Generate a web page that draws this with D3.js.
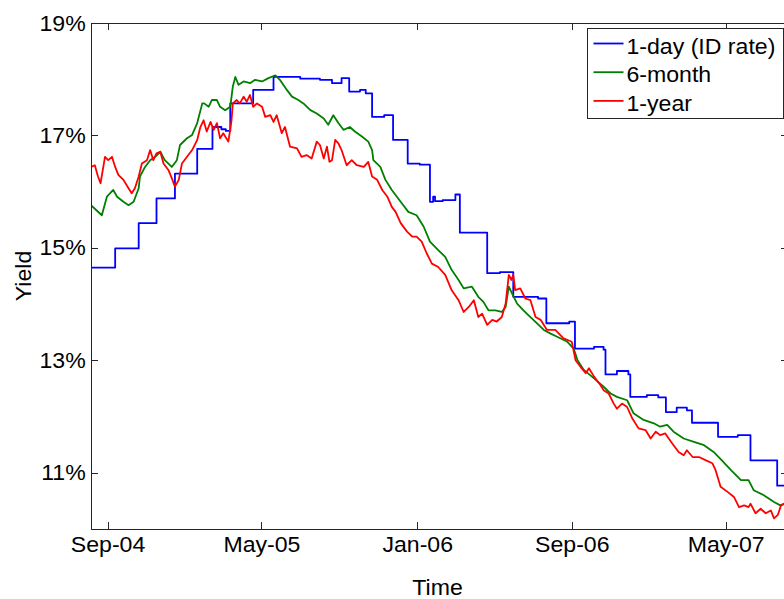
<!DOCTYPE html>
<html>
<head>
<meta charset="utf-8">
<script src="https://cdnjs.cloudflare.com/ajax/libs/d3/7.8.5/d3.min.js"></script>
<style>
  body { margin: 0; background: #fff; }
  svg { display: block; font-family: "Liberation Sans", Arial, sans-serif; }
  .axis path, .axis line { stroke: #262626; shape-rendering: crispEdges; }
  .axis text { font-size: 22px; fill: #000; }
  .label { font-size: 22px; fill: #000; }
  .legendtext { font-size: 22px; fill: #000; }
</style>
</head>
<body>
<script>
// tick positions and labels
var xTicks = ["2004-09-01", "2005-05-01", "2006-01-01", "2006-09-01", "2007-05-01"];
var yTicks = [11, 13, 15, 17, 19];
var seriesNames = ["1-day (ID rate)", "6-month", "1-year"];
var seriesColors = ["#0000ff", "#008000", "#ff0000"];

// 1-day rate, step function (date the level starts, yield %)
var oneDay = [
  ["2004-08-06",14.65],["2004-09-13",14.99],["2004-10-20",15.44],["2004-11-17",15.88],
  ["2004-12-16",16.32],["2005-01-20",16.76],["2005-02-13",17.15],["2005-02-27",17.11],
  ["2005-03-06",17.08],["2005-03-13",17.57],["2005-04-18",17.81],["2005-05-20",18.04],
  ["2005-07-01",18.01],["2005-08-01",17.99],["2005-08-20",17.93],["2005-09-04",18.02],
  ["2005-09-16",17.78],["2005-10-03",17.81],["2005-10-12",17.75],["2005-10-22",17.33],
  ["2005-11-10",17.36],["2005-11-24",16.92],["2005-12-17",16.50],["2006-01-05",16.48],
  ["2006-01-21",15.82],["2006-01-26",15.91],["2006-01-29",15.83],["2006-02-10",15.85],
  ["2006-03-02",15.95],["2006-03-09",15.27],["2006-04-21",14.55],["2006-05-11",14.57],
  ["2006-06-01",14.13],["2006-07-10",14.10],["2006-07-23",13.66],["2006-08-28",13.69],
  ["2006-09-06",13.21],["2006-10-06",13.24],["2006-10-21",13.19],["2006-10-24",12.75],
  ["2006-11-11",12.81],["2006-11-29",12.75],["2006-12-02",12.35],["2006-12-28",12.38],
  ["2007-01-15",12.34],["2007-01-27",12.08],["2007-02-13",12.16],["2007-03-01",12.11],
  ["2007-03-09",11.89],["2007-04-19",11.64],["2007-05-20",11.67],["2007-06-09",11.22],
  ["2007-07-21",10.77],["2007-08-07",10.77]
];

var sixMonth = [
  ["2004-08-06",15.76],["2004-08-23",15.58],["2004-08-31",15.91],["2004-09-10",16.03],
  ["2004-09-16",15.91],["2004-09-26",15.82],["2004-10-04",15.76],["2004-10-12",15.82],
  ["2004-10-20",16.06],["2004-10-22",16.27],["2004-10-30",16.44],["2004-11-07",16.56],
  ["2004-11-15",16.62],["2004-11-23",16.71],["2004-11-30",16.56],["2004-12-11",16.44],
  ["2004-12-19",16.56],["2004-12-24",16.83],["2005-01-04",16.95],["2005-01-12",17.01],
  ["2005-01-20",17.22],["2005-01-28",17.57],["2005-01-31",17.57],["2005-02-07",17.51],
  ["2005-02-12",17.63],["2005-02-20",17.63],["2005-02-25",17.51],["2005-03-05",17.45],
  ["2005-03-13",17.51],["2005-03-17",17.87],["2005-03-21",18.04],["2005-03-26",17.90],
  ["2005-04-03",17.96],["2005-04-13",17.93],["2005-04-21",17.99],["2005-05-02",17.96],
  ["2005-05-12",18.02],["2005-05-23",18.07],["2005-05-30",17.99],["2005-06-10",17.81],
  ["2005-06-18",17.69],["2005-06-28",17.63],["2005-07-06",17.57],["2005-07-17",17.45],
  ["2005-07-27",17.39],["2005-08-07",17.30],["2005-08-14",17.19],["2005-08-22",17.36],
  ["2005-08-30",17.22],["2005-09-07",17.10],["2005-09-17",17.15],["2005-09-25",17.07],
  ["2005-10-06",16.98],["2005-10-16",16.89],["2005-10-22",16.74],["2005-10-24",16.56],
  ["2005-11-04",16.44],["2005-11-12",16.21],["2005-11-22",16.03],["2005-11-30",15.91],
  ["2005-12-08",15.79],["2005-12-18",15.64],["2005-12-31",15.58],["2006-01-11",15.38],
  ["2006-01-21",15.11],["2006-02-03",14.96],["2006-02-14",14.84],["2006-02-24",14.61],
  ["2006-03-07",14.43],["2006-03-15",14.28],["2006-03-28",14.31],["2006-04-07",14.13],
  ["2006-04-15",14.04],["2006-04-23",13.89],["2006-05-04",13.89],["2006-05-14",13.86],
  ["2006-05-20",13.95],["2006-05-25",14.31],["2006-05-30",14.19],["2006-06-07",14.01],
  ["2006-06-17",13.89],["2006-06-28",13.77],["2006-07-08",13.66],["2006-07-19",13.54],
  ["2006-07-29",13.48],["2006-08-09",13.42],["2006-08-25",13.33],["2006-09-04",13.21],
  ["2006-09-10",13.00],["2006-09-20",12.83],["2006-10-06",12.68],["2006-10-21",12.53],
  ["2006-11-01",12.41],["2006-11-11",12.35],["2006-11-27",12.29],["2006-12-07",12.06],
  ["2006-12-23",11.94],["2007-01-08",11.88],["2007-01-18",11.82],["2007-01-29",11.85],
  ["2007-02-08",11.73],["2007-02-24",11.61],["2007-03-12",11.55],["2007-03-28",11.49],
  ["2007-04-12",11.37],["2007-04-25",11.22],["2007-05-09",11.05],["2007-05-25",10.87],
  ["2007-06-06",10.87],["2007-06-14",10.69],["2007-06-30",10.60],["2007-07-16",10.48],
  ["2007-07-26",10.42],["2007-08-07",10.48]
];

var oneYear = [
  ["2004-08-06",16.44],["2004-08-12",16.47],["2004-08-17",16.27],["2004-08-21",16.15],
  ["2004-08-28",16.62],["2004-09-02",16.56],["2004-09-08",16.62],["2004-09-13",16.44],
  ["2004-09-18",16.30],["2004-09-26",16.21],["2004-10-04",16.06],["2004-10-09",15.97],
  ["2004-10-14",16.06],["2004-10-20",16.27],["2004-10-25",16.50],["2004-11-02",16.56],
  ["2004-11-07",16.74],["2004-11-12",16.56],["2004-11-17",16.68],["2004-11-23",16.71],
  ["2004-11-28",16.50],["2004-12-06",16.38],["2004-12-11",16.24],["2004-12-16",16.09],
  ["2004-12-22",16.21],["2004-12-27",16.50],["2005-01-04",16.62],["2005-01-12",16.74],
  ["2005-01-20",16.92],["2005-01-25",17.15],["2005-01-30",17.27],["2005-02-04",17.07],
  ["2005-02-10",17.24],["2005-02-15",17.10],["2005-02-20",17.22],["2005-02-25",16.95],
  ["2005-03-02",17.04],["2005-03-10",16.89],["2005-03-15",17.27],["2005-03-17",17.57],
  ["2005-03-23",17.63],["2005-03-28",17.57],["2005-04-03",17.69],["2005-04-08",17.60],
  ["2005-04-13",17.72],["2005-04-18",17.51],["2005-04-24",17.57],["2005-05-02",17.51],
  ["2005-05-07",17.33],["2005-05-15",17.36],["2005-05-20",17.24],["2005-05-25",17.36],
  ["2005-06-02",17.04],["2005-06-07",17.15],["2005-06-15",16.80],["2005-06-26",16.77],
  ["2005-07-03",16.62],["2005-07-11",16.65],["2005-07-19",16.59],["2005-07-27",16.89],
  ["2005-08-01",16.83],["2005-08-07",16.59],["2005-08-12",16.80],["2005-08-16",16.53],
  ["2005-08-20",16.56],["2005-08-25",16.92],["2005-08-30",16.86],["2005-09-04",16.74],
  ["2005-09-12",16.47],["2005-09-20",16.56],["2005-09-28",16.47],["2005-10-09",16.44],
  ["2005-10-16",16.53],["2005-10-22",16.27],["2005-10-30",16.21],["2005-11-07",16.03],
  ["2005-11-15",15.91],["2005-11-22",15.73],["2005-11-28",15.64],["2005-12-06",15.44],
  ["2005-12-16",15.29],["2005-12-24",15.20],["2005-12-31",15.20],["2006-01-08",15.11],
  ["2006-01-16",14.90],["2006-01-24",14.72],["2006-02-03",14.66],["2006-02-14",14.52],
  ["2006-02-24",14.25],["2006-03-07",14.07],["2006-03-15",13.86],["2006-03-23",13.95],
  ["2006-03-31",14.07],["2006-04-07",13.77],["2006-04-13",13.83],["2006-04-21",13.63],
  ["2006-04-29",13.72],["2006-05-06",13.69],["2006-05-14",13.77],["2006-05-20",14.01],
  ["2006-05-25",14.52],["2006-05-29",14.43],["2006-06-01",14.52],["2006-06-04",14.25],
  ["2006-06-12",14.28],["2006-06-20",14.10],["2006-06-28",14.07],["2006-07-06",13.77],
  ["2006-07-14",13.72],["2006-07-24",13.54],["2006-08-06",13.54],["2006-08-19",13.39],
  ["2006-09-01",13.33],["2006-09-07",13.00],["2006-09-15",12.88],["2006-09-23",12.77],
  ["2006-09-28",12.86],["2006-10-06",12.71],["2006-10-16",12.56],["2006-10-21",12.47],
  ["2006-10-29",12.41],["2006-11-06",12.23],["2006-11-11",12.14],["2006-11-19",12.23],
  ["2006-11-27",12.17],["2006-12-05",11.97],["2006-12-15",11.79],["2006-12-26",11.76],
  ["2007-01-03",11.61],["2007-01-11",11.73],["2007-01-18",11.67],["2007-01-26",11.70],
  ["2007-02-06",11.52],["2007-02-16",11.37],["2007-02-24",11.31],["2007-03-01",11.40],
  ["2007-03-10",11.28],["2007-03-20",11.28],["2007-03-31",11.22],["2007-04-10",11.17],
  ["2007-04-15",11.05],["2007-04-23",10.75],["2007-05-04",10.66],["2007-05-14",10.57],
  ["2007-05-22",10.39],["2007-05-30",10.42],["2007-06-06",10.39],["2007-06-09",10.45],
  ["2007-06-17",10.28],["2007-06-25",10.36],["2007-07-03",10.28],["2007-07-11",10.33],
  ["2007-07-16",10.19],["2007-07-22",10.25],["2007-07-27",10.42],["2007-08-07",10.48]
];

var svgWidth = 784;
var svgHeight = 599;
var margin = {top: 23, right: -4, bottom: 70, left: 91};
var width = svgWidth - margin.left - margin.right;
var height = svgHeight - margin.top - margin.bottom;
var stretch = "scale(1.05,1)"; // the original text is a bit wide

var parseDate = d3.timeParse("%Y-%m-%d");

var x = d3.scaleTime()
  .domain([parseDate("2004-08-06"), parseDate("2007-08-07")])
  .range([0, width]);

var y = d3.scaleLinear()
  .domain([10, 19])
  .range([height, 0]);

var svg = d3.select("body")
  .append("svg")
  .attr("width", svgWidth)
  .attr("height", svgHeight);

var chart = svg.append("g")
  .attr("transform", "translate(" + margin.left + "," + margin.top + ")");

var clip = chart.append("clipPath")
  .attr("id", "plotclip")
  .append("rect")
  .attr("width", width)
  .attr("height", height);

// series lines
var makeLine = function(curve) {
  return d3.line()
    .x(function(d) { return x(parseDate(d[0])); })
    .y(function(d) { return y(d[1]); })
    .curve(curve);
};

var allSeries = [oneDay, sixMonth, oneYear];

chart.append("g")
  .attr("clip-path", "url(#plotclip)")
  .selectAll("path")
  .data(allSeries)
  .enter()
  .append("path")
    .attr("fill", "none")
    .attr("stroke", function(d, i) { return seriesColors[i]; })
    .attr("stroke-width", 1.8)
    .attr("stroke-linejoin", "round")
    .attr("d", function(d, i) {
      return makeLine(i === 0 ? d3.curveStepAfter : d3.curveLinear)(d);
    });

// axes, matlab style: ticks pointing in, box all round
var tickDates = xTicks.map(parseDate);

var xAxis = chart.append("g")
  .attr("class", "axis")
  .attr("transform", "translate(0," + height + ")")
  .call(d3.axisBottom(x)
    .tickValues(tickDates)
    .tickFormat(d3.timeFormat("%b-%y"))
    .tickSizeInner(-7)
    .tickSizeOuter(0)
    .tickPadding(7));

chart.append("g")
  .attr("class", "axis")
  .call(d3.axisTop(x)
    .tickValues(tickDates)
    .tickFormat("")
    .tickSizeInner(-7)
    .tickSizeOuter(0));

var yAxis = chart.append("g")
  .attr("class", "axis")
  .call(d3.axisLeft(y)
    .tickValues(yTicks)
    .tickFormat(function(d) { return d + "%"; })
    .tickSizeInner(-7)
    .tickSizeOuter(0)
    .tickPadding(5));

chart.append("g")
  .attr("class", "axis")
  .attr("transform", "translate(" + width + ",0)")
  .call(d3.axisRight(y)
    .tickValues(yTicks)
    .tickFormat("")
    .tickSizeInner(-7)
    .tickSizeOuter(0));

chart.selectAll(".axis text")
  .attr("font-family", null)
  .attr("font-size", null)
  .attr("transform", stretch);

chart.selectAll(".axis .domain").attr("stroke", "#262626");

// axis titles
chart.append("text")
  .attr("class", "label")
  .attr("text-anchor", "middle")
  .attr("transform", "translate(" + (width / 2 - 2) + "," + (height + 66) + ") " + stretch)
  .text("Time");

chart.append("text")
  .attr("class", "label")
  .attr("text-anchor", "middle")
  .attr("transform", "translate(" + (-margin.left + 31) + "," + (height / 2) + ") rotate(-90) " + stretch)
  .text("Yield");

// legend
var legendX = 587.5;
var legendY = 28.5;
var legendRow = 28.7;

svg.append("rect")
  .attr("x", legendX)
  .attr("y", legendY)
  .attr("width", 196)
  .attr("height", 90)
  .attr("fill", "#fff")
  .attr("stroke", "#262626")
  .attr("stroke-width", 1);

var legend = svg.append("g")
  .selectAll("g")
  .data(seriesNames)
  .enter()
  .append("g")
    .attr("transform", function(d, i) {
      return "translate(" + legendX + "," + (legendY + 15 + i * legendRow) + ")";
    });

legend.append("line")
  .attr("x1", 6)
  .attr("x2", 36)
  .attr("y1", 0)
  .attr("y2", 0)
  .attr("stroke", function(d, i) { return seriesColors[i]; })
  .attr("stroke-width", 1.8);

legend.append("text")
  .attr("class", "legendtext")
  .attr("transform", "translate(39,10) " + stretch)
  .text(function(d) { return d; });
</script>
</body>
</html>
